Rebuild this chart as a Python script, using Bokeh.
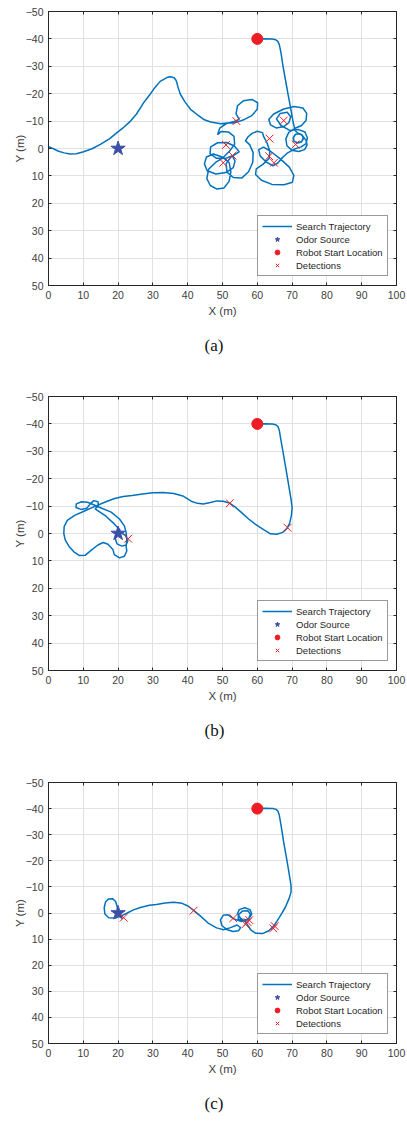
from bokeh.plotting import figure
from bokeh.models import (Range1d, FixedTicker, Legend, LegendItem, Title,
                          LinearAxis, CustomJSTickFormatter)
from bokeh.layouts import column
from bokeh.embed import file_html
from bokeh.resources import INLINE

# ---------------- data ----------------
x_ticks = [0, 10, 20, 30, 40, 50, 60, 70, 80, 90, 100]
y_ticks = [-50, -40, -30, -20, -10, 0, 10, 20, 30, 40, 50]

source_xy = (20, 0)
start_xy = (60, -40)

# Panel (a)
traj_a_x = [60, 62, 64.3, 65.3, 65.9, 66.3, 66.8, 67.4, 68.1, 68.8, 69.4, 69.9, 70.4, 70.9,
            71.8, 72.8, 73.2, 72.8, 71.7, 70.6, 70.3, 70.8, 71.9, 72.9, 73.3, 72.7, 71.6, 70.5, 70.4, 71.0, 72.2, 73.1,
            74.0, 74.3, 73.6, 71.9, 69.9, 68.5, 68.2, 69.0, 70.7, 72.7, 74.0, 74.2, 73.1, 70.6, 67.6, 64.7, 63.3, 63.8,
            65.4, 67.5, 69.1, 69.6, 68.6, 66.6, 65.5, 66.8, 69.3, 71.9, 73.7, 74.4, 74.0, 72.6, 70.5, 68.5, 67.0, 65.9,
            64.5, 62.6, 60.8, 60.4, 61.8, 63.8, 66.6, 69.2, 70.5, 70.1, 67.7, 64.2, 61.2, 59.5, 59.7, 61.6, 63.4, 63.6,
            62.8, 61.8, 61.5, 60.0, 58.5, 57.3, 56.6,
            57.8, 58.8, 58.7, 57.5, 55.5, 53.1, 51.3, 51.0, 52.4, 54.8,
            53.4, 51.2, 48.6, 46.6, 46.4, 48.3, 50.9, 52.8, 53.6, 53.1,
            51.0, 48.1, 45.6, 44.8, 45.4, 47.4, 49.9, 51.9, 52.4,
            51.9, 50.4, 48.4, 46.5, 45.5, 46.0, 48.0, 50.1, 52.0, 53.5, 53.3, 51.8,
            49.6, 48.6, 49.2, 51.0, 53.3, 54.8, 53.9, 54.3, 56.0, 58.5, 60.1, 60.0, 58.3, 56.3, 54.8, 53.3, 51.4, 49.5,
            46.6, 44.6, 42.7, 40.8, 39.2, 37.9, 37.2, 36.9, 36.6, 36.1, 35.0, 34.0, 32.1, 30.6, 29.2, 27.4, 25.3, 23.4, 21.4,
            19.5, 17.6, 14.9, 12.5, 10.1, 8.0, 6.2, 4.5, 2.9, 1.4, 0.0]
traj_a_y = [-40, -40.1, -40, -39.7, -39.1, -38, -35, -30, -25, -20, -16, -12.5, -9, -6.5,
            -5.4, -5.0, -3.9, -2.6, -2.1, -2.6, -3.8, -5.0, -5.5, -4.9, -3.7, -2.4, -2.0, -2.7, -4.0, -5.2, -5.4, -4.5,
            -3.0, -1.3, 0.4, 1.1, 0.6, -1.0, -3.5, -5.8, -7.3, -8.4, -10.2, -12.8, -14.8, -15.3, -14.4, -12.6, -10.6, -8.6,
            -7.5, -7.9, -9.5, -11.6, -13.2, -12.8, -10.8, -8.4, -6.6, -6.9, -6.0, -3.8, -1.8, -0.6, 0.3, 1.8, 3.6, 5.3,
            6.3, 5.0, 2.7, 0.4, -0.5, 1.0, 3.8, 6.8, 9.8, 12.3, 13.2, 13.1, 11.6, 9.5, 7.4, 5.8, 3.6, 1.0,
            -2.0, -4.4, -5.8, -6.3, -5.5, -4.2, -2.8,
            -1.4, 1.5, 5.0, 8.5, 10.8, 10.6, 8.6, 5.6, 3.1, 1.2,
            -0.9, -2.2, -2.1, -0.6, 1.9, 3.6, 3.6, 2.6, 4.6, 7.0,
            8.8, 9.3, 8.1, 5.6, 3.1, 2.0, 3.1, 5.1, 8.5,
            12.0, 14.4, 14.8, 13.5, 11.0, 7.6, 5.1, 3.4, 1.0, -1.6, -4.4, -6.0,
            -6.2, -5.0, -7.4, -9.0, -9.9, -10.6, -12.6, -15.6, -17.4, -17.9, -16.7, -14.3, -11.9, -10.6, -9.9, -9.3, -9.3, -9.0,
            -9.7, -10.6, -12.4, -14.3, -17.0, -19.8, -22.4, -24.0, -25.0, -25.8, -26.2, -25.9, -24.5, -22.3, -19.8, -16.8, -12.6, -9.8, -7.5,
            -5.6, -3.6, -1.5, 0.1, 1.2, 1.9, 2.0, 1.6, 1.0, 0.1, -0.7]
det_a_x = [54.0, 51.0, 52.9, 50.2, 63.5, 67.6, 71.0, 63.4, 64.8]
det_a_y = [-10.0, -1.3, 2.6, 5.2, -3.6, -10.2, -1.5, 2.8, 5.2]

# Panel (b)
traj_b_x = [60, 62, 64.3, 65.3, 65.9, 66.3, 66.8, 67.5, 68.3, 69.1, 69.7, 70.0, 69.8, 69.3, 68.5, 67.3, 65.6, 63.8,
            61.8, 59.6, 57.5, 55.5, 53.5, 52.0, 50.2, 48.4, 46.5, 44.5, 42.8, 41.0, 38.6, 36.0, 33.0, 30.0,
            27.0, 24.0, 21.5, 19.0, 16.5, 13.5, 10.5, 7.5, 5.4, 4.5, 4.4, 4.8, 5.9, 7.3, 8.8, 10.6, 12.4,
            14.2, 15.7, 17.1, 18.5, 18.9, 20.4, 21.8, 22.5, 22.3, 22.5, 22.3, 21.8, 20.4, 18.0, 14.6,
            12.8, 11.2, 9.5, 8.0, 7.9, 9.3, 11.0, 12.0, 13.0, 14.2, 14.4, 13.4, 14.8, 16.5, 18.9, 20.6,
            19.6, 19.2, 19.7, 21.1, 22.3, 22.8, 22.1, 20.6]
traj_b_y = [-40, -40.1, -40, -39.7, -39.1, -37.8, -34, -29, -23, -17, -12.5, -9.5, -6.5, -3.8, -1.8, -0.4, 0.3, 0.1,
            -1.4, -3.2, -5.3, -7.6, -9.8, -11.1, -11.8, -11.9, -11.3, -10.8, -11.0, -11.8, -13.7, -14.6, -15.0, -14.9,
            -14.4, -13.9, -13.5, -12.8, -11.6, -10.0, -8.3, -6.6, -4.8, -2.5, 0.0, 2.3, 4.7, 6.7, 8.0, 7.9, 6.0,
            4.2, 3.3, 3.9, 5.8, 7.7, 8.9, 8.3, 6.4, 4.6, 2.1, -0.4, -2.8, -5.3, -7.8, -9.6,
            -10.6, -11.4, -11.6, -10.8, -9.5, -8.8, -9.2, -10.8, -12.0, -11.6, -10.2, -9.0, -7.8, -6.3, -3.5, -1.2,
            0.5, 1.9, 3.8, 4.6, 4.2, 2.6, 0.7, -0.5]
det_b_x = [22.9, 52.1, 68.7]
det_b_y = [1.9, -11.0, -2.1]

# Panel (c)
traj_c_x = [60, 62, 64.5, 65.4, 65.9, 66.3, 66.9, 67.6, 68.4, 69.1, 69.7, 69.7, 69.2, 68.1, 67.0, 65.8, 64.7, 63.3,
            61.5, 59.6, 58.2, 57.3, 56.5,
            55.2, 54.3, 54.8, 56.4, 57.9, 58.4, 57.6, 55.9, 54.5, 54.6, 55.8, 57.3, 58.0, 57.4, 55.5, 53.3,
            51.6, 50.2, 49.4, 49.8, 51.2, 53.0, 54.6, 55.2, 54.2, 52.3, 50.3, 48.3, 46.0, 43.7, 41.7, 40.2,
            38.4, 36.0, 33.5, 31.0, 29.0, 26.4, 24.4, 22.5, 20.9, 19.2, 17.3, 16.2, 16.0, 16.4, 17.2, 18.4,
            19.3, 19.8, 20.0]
traj_c_y = [-40, -40.1, -40, -39.7, -39.1, -37.6, -33, -27, -21, -15.5, -10.5, -8.0, -5.8, -2.3, 0.2, 2.8, 5.0, 6.8,
            7.9, 7.8, 6.6, 4.8, 3.2,
            2.0, 0.3, -1.3, -2.0, -1.3, 0.4, 2.2, 2.9, 2.3, 0.6, -0.8, -0.9, 0.5, 2.6, 3.3, 2.3,
            0.7, 0.9, 2.6, 4.8, 6.3, 7.1, 6.8, 5.6, 4.6, 5.6, 6.4, 5.7, 4.0, 1.2, -1.0, -2.6,
            -3.7, -4.1, -3.8, -3.3, -3.0, -2.1, -1.2, 0.1, 1.1, 1.9, 1.8, 0.4, -2.0, -4.2, -5.4, -5.5,
            -4.4, -2.1, -0.4]
det_c_x = [21.6, 41.7, 53.1, 56.6, 57.2, 57.7, 64.6, 65.0]
det_c_y = [1.8, -0.9, 2.0, 4.3, 3.5, 2.7, 5.9, 5.0]

captions = ["(a)", "(b)", "(c)"]
legend_labels = ["Search Trajectory", "Odor Source", "Robot Start Location", "Detections"]

# ---------------- styling ----------------
LINE_COLOR = "#0072BD"
STAR_COLOR = "#3B4FA6"
RED = "#EE1C25"
TEXT_COLOR = "#404040"
FONT = "Liberation Sans"


def make_panel(tx, ty, dx, dy, caption, height, top):
    p = figure(width=407, height=height, output_backend="svg", toolbar_location=None,
               x_range=Range1d(0, 100), y_range=Range1d(50, -50),
               min_border_left=48, min_border_right=11, min_border_top=top,
               min_border_bottom=height - top - 274,
               background_fill_color="white", border_fill_color="white")
    p.outline_line_color = "#262626"
    p.outline_line_width = 1

    p.xaxis.ticker = FixedTicker(ticks=x_ticks)
    p.yaxis.ticker = FixedTicker(ticks=y_ticks)
    p.xgrid.ticker = FixedTicker(ticks=x_ticks)
    p.ygrid.ticker = FixedTicker(ticks=y_ticks)
    p.grid.grid_line_color = "#e1e1e1"
    p.grid.grid_line_width = 1

    for ax in (p.xaxis[0], p.yaxis[0]):
        ax.axis_line_color = "#262626"
        ax.major_tick_line_color = "#262626"
        ax.major_tick_in = 3
        ax.major_tick_out = 0
        ax.minor_tick_line_color = None
        ax.major_label_text_font = FONT
        ax.major_label_text_font_size = "10.5px"
        ax.major_label_text_color = TEXT_COLOR
        ax.axis_label_text_font = FONT
        ax.axis_label_text_font_size = "11.5px"
        ax.axis_label_text_font_style = "normal"
        ax.axis_label_text_color = TEXT_COLOR
        ax.major_label_standoff = 5
    p.xaxis.axis_label = "X (m)"
    p.yaxis.axis_label = "Y (m)"
    p.xaxis.axis_label_standoff = 3
    p.yaxis.axis_label_standoff = -3

    # box ticks on top and right
    for side, tk in (("right", y_ticks), ("above", x_ticks)):
        ax = LinearAxis(ticker=FixedTicker(ticks=tk),
                        formatter=CustomJSTickFormatter(code="return ''"),
                        major_tick_in=3, major_tick_out=0, minor_tick_line_color=None,
                        axis_line_color="#262626", major_tick_line_color="#262626",
                        major_label_standoff=0, major_label_text_font_size="1px")
        p.add_layout(ax, side)

    r_line = p.line(tx, ty, line_color=LINE_COLOR, line_width=1.5)
    r_star = p.scatter([source_xy[0]], [source_xy[1]], marker="star", size=15,
                       fill_color=STAR_COLOR, line_color=STAR_COLOR)
    r_start = p.scatter([start_xy[0]], [start_xy[1]], marker="circle", size=11,
                        fill_color=RED, line_color=RED)
    r_det = p.scatter(dx, dy, marker="x", size=11, line_color=RED, line_width=1)

    legend = Legend(items=[LegendItem(label=legend_labels[0], renderers=[r_line]),
                           LegendItem(label=legend_labels[1], renderers=[r_star]),
                           LegendItem(label=legend_labels[2], renderers=[r_start]),
                           LegendItem(label=legend_labels[3], renderers=[r_det])],
                    location=(209, 9), orientation="vertical",
                    label_text_font=FONT, label_text_font_size="9.5px",
                    label_text_color="#262626",
                    glyph_width=30, glyph_height=12, label_height=12,
                    label_standoff=4, spacing=1, padding=4, margin=0,
                    border_line_color="#333333", border_line_width=1,
                    background_fill_color="white", background_fill_alpha=1)
    p.add_layout(legend, "center")

    t = Title(text=caption, align="left", offset=156, text_font="Liberation Serif",
              text_font_size="17px", text_font_style="normal", text_color="#111111",
              standoff=29)
    p.add_layout(t, "below")
    return p


pa = make_panel(traj_a_x, traj_a_y, det_a_x, det_a_y, captions[0], 385, 11)
pb = make_panel(traj_b_x, traj_b_y, det_b_x, det_b_y, captions[1], 385, 11)
pc = make_panel(traj_c_x, traj_c_y, det_c_x, det_c_y, captions[2], 357, 12)

layout = column(pa, pb, pc, spacing=0)
open("out.html", "w").write(file_html(layout, INLINE))
